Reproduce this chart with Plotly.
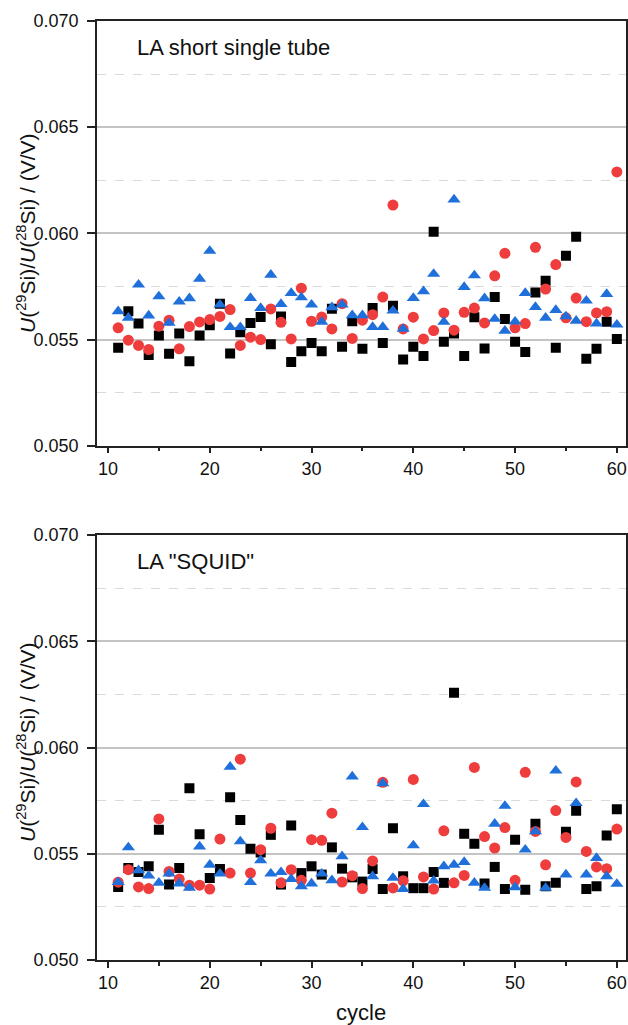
import plotly.graph_objects as go

cycles = list(range(11, 61))

# Top panel: LA short single tube
top_black = [0.05461, 0.05633, 0.05575, 0.05427, 0.05519, 0.05433, 0.05528, 0.05398, 0.05519, 0.05567,
             0.05669, 0.05434, 0.05534, 0.05578, 0.05606, 0.05478, 0.05609, 0.05394, 0.05445, 0.05484,
             0.05445, 0.05645, 0.05466, 0.05586, 0.05456, 0.05648, 0.05484, 0.05659, 0.05406, 0.05466,
             0.05422, 0.06008, 0.05489, 0.05528, 0.05422, 0.05605, 0.05458, 0.05700, 0.05597, 0.05489,
             0.05441, 0.05722, 0.05777, 0.05461, 0.05895, 0.05984, 0.05409, 0.05456, 0.05584, 0.05503]
top_red = [0.05555, 0.05497, 0.05472, 0.05453, 0.05563, 0.05591, 0.05456, 0.05561, 0.05583, 0.05594,
           0.05609, 0.05641, 0.05472, 0.05511, 0.05500, 0.05644, 0.05581, 0.05503, 0.05742, 0.05586,
           0.05606, 0.05550, 0.05669, 0.05505, 0.05591, 0.05617, 0.05700, 0.06133, 0.05550, 0.05605,
           0.05503, 0.05542, 0.05625, 0.05544, 0.05628, 0.05648, 0.05578, 0.05800, 0.05906, 0.05555,
           0.05575, 0.05934, 0.05738, 0.05853, 0.05602, 0.05695, 0.05584, 0.05625, 0.05631, 0.06289]
top_blue = [0.05633, 0.05602, 0.05758, 0.05613, 0.05703, 0.05578, 0.05678, 0.05694, 0.05786, 0.05917,
            0.05664, 0.05558, 0.05558, 0.05695, 0.05648, 0.05805, 0.05667, 0.05719, 0.05698, 0.05664,
            0.05583, 0.05652, 0.05664, 0.05614, 0.05614, 0.05559, 0.05559, 0.05636, 0.05550, 0.05695,
            0.05727, 0.05809, 0.05583, 0.06159, 0.05747, 0.05802, 0.05694, 0.05597, 0.05541, 0.05584,
            0.05719, 0.05653, 0.05602, 0.05639, 0.05609, 0.05588, 0.05683, 0.05575, 0.05714, 0.05570]

# Bottom panel: LA "SQUID"
bot_black = [0.05344, 0.05433, 0.05414, 0.05441, 0.05613, 0.05355, 0.05433, 0.05808, 0.05592, 0.05386,
             0.05428, 0.05766, 0.05659, 0.05523, 0.05506, 0.05589, 0.05355, 0.05633, 0.05409, 0.05441,
             0.05402, 0.05530, 0.05430, 0.05389, 0.05369, 0.05428, 0.05334, 0.05620, 0.05394, 0.05338,
             0.05338, 0.05414, 0.05363, 0.06258, 0.05594, 0.05547, 0.05360, 0.05438, 0.05334, 0.05566,
             0.05331, 0.05641, 0.05347, 0.05363, 0.05603, 0.05702, 0.05334, 0.05347, 0.05586, 0.05709]
bot_red = [0.05366, 0.05425, 0.05344, 0.05336, 0.05664, 0.05417, 0.05381, 0.05352, 0.05352, 0.05334,
           0.05569, 0.05409, 0.05945, 0.05409, 0.05519, 0.05620, 0.05363, 0.05425, 0.05375, 0.05566,
           0.05563, 0.05691, 0.05367, 0.05397, 0.05336, 0.05466, 0.05836, 0.05339, 0.05373, 0.05850,
           0.05391, 0.05334, 0.05608, 0.05363, 0.05398, 0.05906, 0.05581, 0.05527, 0.05623, 0.05375,
           0.05883, 0.05605, 0.05448, 0.05703, 0.05577, 0.05838, 0.05511, 0.05438, 0.05430, 0.05616]
bot_blue = [0.05366, 0.05530, 0.05422, 0.05397, 0.05363, 0.05406, 0.05360, 0.05339, 0.05534, 0.05448,
            0.05406, 0.05909, 0.05558, 0.05366, 0.05469, 0.05406, 0.05413, 0.05381, 0.05347, 0.05360,
            0.05406, 0.05375, 0.05488, 0.05863, 0.05625, 0.05394, 0.05831, 0.05386, 0.05334, 0.05539,
            0.05733, 0.05373, 0.05441, 0.05448, 0.05461, 0.05363, 0.05339, 0.05641, 0.05725, 0.05342,
            0.05519, 0.05605, 0.05339, 0.05891, 0.05402, 0.05738, 0.05402, 0.05480, 0.05394, 0.05358]

x_ticks = [10, 20, 30, 40, 50, 60]
y_ticks = [0.050, 0.055, 0.060, 0.065, 0.070]
panel_labels = ["LA short single tube", 'LA "SQUID"']
y_title = "<i>U</i>(<sup>29</sup>Si)/<i>U</i>(<sup>28</sup>Si) / (V/V)"
x_title = "cycle"

BLACK = "#000000"
RED = "#EF3D3D"
BLUE = "#1F70DB"
FONT = "Liberation Sans, Arial, sans-serif"

fig = go.Figure()

def add_panel(xa, ya, blk, red, blu):
    fig.add_trace(go.Scatter(x=cycles, y=blk, mode="markers", xaxis=xa, yaxis=ya,
                             marker=dict(symbol="square", size=10, color=BLACK, line=dict(width=0))))
    fig.add_trace(go.Scatter(x=cycles, y=red, mode="markers", xaxis=xa, yaxis=ya,
                             marker=dict(symbol="circle", size=11, color=RED, line=dict(width=0))))
    fig.add_trace(go.Scatter(x=cycles, y=blu, mode="markers", xaxis=xa, yaxis=ya,
                             marker=dict(symbol="triangle-up", size=11.5, color=BLUE, line=dict(width=0))))

add_panel("x", "y", top_black, top_red, top_blue)
add_panel("x2", "y2", bot_black, bot_red, bot_blue)

W, H = 628, 1025

def px(xp):
    return xp / W

def py(yp):
    return 1 - yp / H

x_dom = [px(96.8), px(625.5)]
top_dom = [py(445.7), py(21)]
bot_dom = [py(960), py(535)]

def xaxis(anchor):
    return dict(domain=x_dom, anchor=anchor, range=[8.9, 60.85],
                tickmode="array", tickvals=x_ticks, ticks="outside", ticklen=6, tickwidth=1.5,
                tickcolor="#222", showline=True, linecolor="#222", linewidth=1.5, mirror=True,
                showgrid=False, zeroline=False, automargin=False,
                tickfont=dict(family=FONT, size=18, color="#111"),
                minor=dict(dtick=5, tick0=0, ticks="outside", ticklen=4, tickwidth=1.5,
                           tickcolor="#222", showgrid=False))

def yaxis(anchor, dom):
    return dict(domain=dom, anchor=anchor, range=[0.050, 0.070],
                tickmode="array", tickvals=y_ticks, tickformat=".3f",
                ticks="outside", ticklen=8, tickwidth=1.5, tickcolor="#222",
                showline=True, linecolor="#222", linewidth=1.5, mirror=True,
                showgrid=True, gridcolor="#c4c4c4", gridwidth=1.5, zeroline=False,
                automargin=False, ticklabelstandoff=5,
                tickfont=dict(family=FONT, size=18, color="#111"),
                minor=dict(dtick=0.0025, tick0=0.050, ticks="", showgrid=True,
                           gridcolor="#dadada", gridwidth=1.2, griddash="dash"))

fig.update_layout(
    width=W, height=H,
    margin=dict(l=0, r=0, t=0, b=0),
    paper_bgcolor="white", plot_bgcolor="white",
    showlegend=False,
    xaxis=xaxis("y"), yaxis=yaxis("x", top_dom),
    xaxis2=xaxis("y2"), yaxis2=yaxis("x2", bot_dom),
    font=dict(family=FONT, color="#111"),
)

ann = [
    dict(text=panel_labels[0], x=px(135), y=py(47), xref="paper", yref="paper",
         xanchor="left", yanchor="middle", showarrow=False, font=dict(family=FONT, size=22, color="#111")),
    dict(text=panel_labels[1], x=px(135), y=py(561), xref="paper", yref="paper",
         xanchor="left", yanchor="middle", showarrow=False, font=dict(family=FONT, size=22, color="#111")),
    dict(text=y_title, x=px(26), y=py(233), xref="paper", yref="paper", textangle=-90,
         xanchor="center", yanchor="middle", showarrow=False, font=dict(family=FONT, size=21, color="#111")),
    dict(text=y_title, x=px(26), y=py(742), xref="paper", yref="paper", textangle=-90,
         xanchor="center", yanchor="middle", showarrow=False, font=dict(family=FONT, size=21, color="#111")),
    dict(text=x_title, x=px(361), y=py(1012), xref="paper", yref="paper",
         xanchor="center", yanchor="middle", showarrow=False, font=dict(family=FONT, size=22, color="#111")),
]
fig.update_layout(annotations=ann)

fig.write_html("out.html", config={"displayModeBar": False},
               post_script="document.body.style.margin='0';document.body.style.overflow='hidden';")
